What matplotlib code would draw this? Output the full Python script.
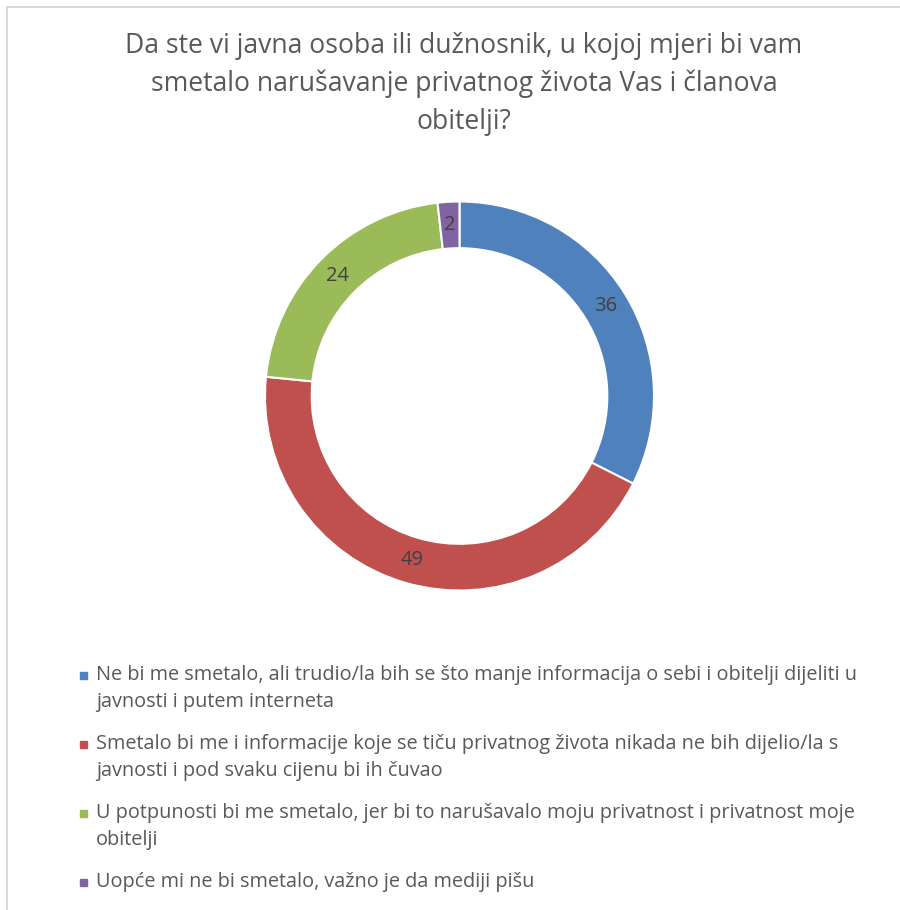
import matplotlib
matplotlib.use("Agg")
import matplotlib.pyplot as plt
from matplotlib.lines import Line2D
from matplotlib.patches import Rectangle

plt.rcParams['font.family'] = ['Open Sans', 'DejaVu Sans']

title = ("Da ste vi javna osoba ili dužnosnik, u kojoj mjeri bi vam\n"
         "smetalo narušavanje privatnog života Vas i članova\n"
         "obitelji?")
categories = [
    "Ne bi me smetalo, ali trudio/la bih se što manje informacija o sebi i obitelji dijeliti u\njavnosti i putem interneta",
    "Smetalo bi me i informacije koje se tiču privatnog života nikada ne bih dijelio/la s\njavnosti i pod svaku cijenu bi ih čuvao",
    "U potpunosti bi me smetalo, jer bi to narušavalo moju privatnost i privatnost moje\nobitelji",
    "Uopće mi ne bi smetalo, važno je da mediji pišu",
]
values = [36, 49, 24, 2]
colors = ['#4F81BD', '#C0504D', '#9BBB59', '#8064A2']

W, H = 900, 910
fig = plt.figure(figsize=(W / 100, H / 100), dpi=100)

# border (top + left only visible)
fig.add_artist(Line2D([7 / W, 1], [1 - 7 / H, 1 - 7 / H], color='#D9D9D9', lw=1.5, transform=fig.transFigure))
fig.add_artist(Line2D([7 / W, 7 / W], [0, 1 - 7 / H], color='#D9D9D9', lw=1.5, transform=fig.transFigure))

# title
for i, line in enumerate(title.split('\n')):
    fig.text(464 / W, 1 - (46 + 38 * i) / H, line, ha='center', va='center',
             fontsize=19.1, color='#595959')

# donut
cx, cy, r = 459.5, 396, 194.5
ax = fig.add_axes([(cx - r) / W, 1 - (cy + r) / H, 2 * r / W, 2 * r / H])
total = sum(values)
wedges, _, autotexts = ax.pie(
    values, colors=colors, startangle=90, counterclock=False, radius=1,
    wedgeprops=dict(width=0.24, edgecolor='white', linewidth=1.5),
    autopct=lambda p: f"{p * total / 100:.0f}", pctdistance=0.88,
    textprops=dict(fontsize=14.5, color='#404040'))
ax.set_xlim(-1, 1)
ax.set_ylim(-1, 1)
ax.set_aspect('equal')
ax.axis('off')

# legend
y0 = 675
for cat, col in zip(categories, colors):
    fig.add_artist(Rectangle((80 / W, 1 - (y0 + 4) / H), 7 / W, 7 / H, color=col,
                             transform=fig.transFigure))
    for j, line in enumerate(cat.split('\n')):
        fig.text(96 / W, 1 - (y0 + 27 * j) / H, line, ha='left', va='center',
                 fontsize=14.3, color='#595959')
    y0 += 69

fig.savefig('out.png', dpi=100)
